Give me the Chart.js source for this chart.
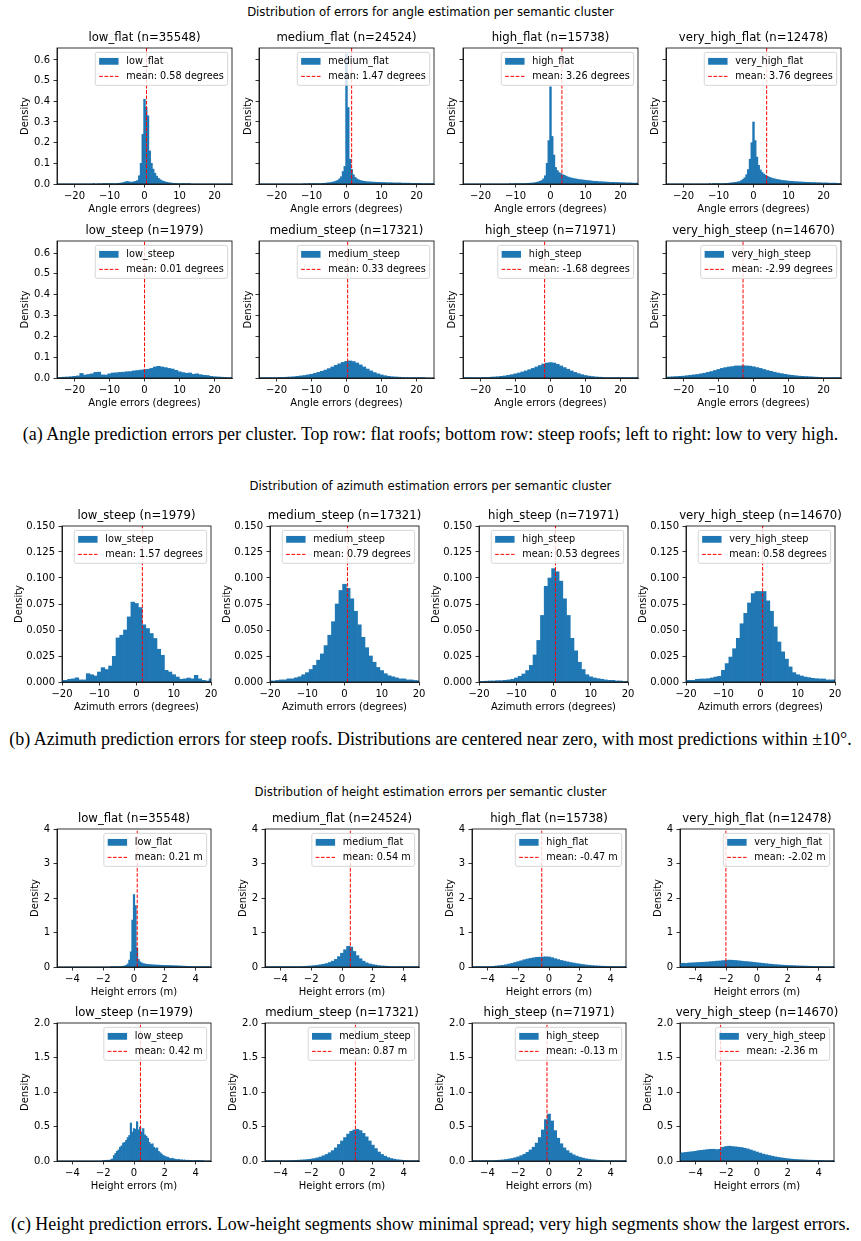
<!DOCTYPE html>
<html>
<head>
<meta charset="utf-8">
<title>Error distributions per semantic cluster</title>
<script src="https://cdn.jsdelivr.net/npm/chart.js@4.4.1/dist/chart.umd.min.js"></script>
<style>
  html, body { margin: 0; padding: 0; background: #fff; }
  #page { position: relative; width: 861px; height: 1241px; overflow: hidden; }
  #page canvas { position: absolute; }
  .suptitle { position: absolute; left: 0; width: 861px; text-align: center;
    font-family: "DejaVu Sans", sans-serif; font-size: 11.7px; line-height: 14px; color: #000; }
  .caption { position: absolute; left: 0; width: 861px; text-align: center; white-space: nowrap;
    font-family: "Liberation Serif", "Times New Roman", serif; font-size: 17.95px; line-height: 21px; color: #000; }
</style>
</head>
<body>
<div id="page">
  <div class="suptitle" style="top:5px">Distribution of errors for angle estimation per semantic cluster</div>
  <div class="caption" style="top:424px">(a) Angle prediction errors per cluster. Top row: flat roofs; bottom row: steep roofs; left to right: low to very high.</div>
  <div class="suptitle" style="top:479px">Distribution of azimuth estimation errors per semantic cluster</div>
  <div class="caption" style="top:729px">(b) Azimuth prediction errors for steep roofs. Distributions are centered near zero, with most predictions within ±10°.</div>
  <div class="suptitle" style="top:785px">Distribution of height estimation errors per semantic cluster</div>
  <div class="caption" style="top:1214px">(c) Height prediction errors. Low-height segments show minimal spread; very high segments show the largest errors.</div>
</div>
<script>
// ---------- data ----------

// cluster names, sample counts, means
const angleClusters = ['low_flat', 'medium_flat', 'high_flat', 'very_high_flat', 'low_steep', 'medium_steep', 'high_steep', 'very_high_steep'];
const angleCounts = [35548, 24524, 15738, 12478, 1979, 17321, 71971, 14670];
const angleMeans = [0.58, 1.47, 3.26, 3.76, 0.01, 0.33, -1.68, -2.99];

const azimuthClusters = ['low_steep', 'medium_steep', 'high_steep', 'very_high_steep'];
const azimuthCounts = [1979, 17321, 71971, 14670];
const azimuthMeans = [1.57, 0.79, 0.53, 0.58];

const heightClusters = ['low_flat', 'medium_flat', 'high_flat', 'very_high_flat', 'low_steep', 'medium_steep', 'high_steep', 'very_high_steep'];
const heightCounts = [35548, 24524, 15738, 12478, 1979, 17321, 71971, 14670];
const heightMeans = [0.21, 0.54, -0.47, -2.02, 0.42, 0.87, -0.13, -2.36];

// bin centres
const angleBinsFine = [
  -25, -24.5, -24, -23.5, -23, -22.5, -22, -21.5, -21, -20.5,
  -20, -19.5, -19, -18.5, -18, -17.5, -17, -16.5, -16, -15.5,
  -15, -14.5, -14, -13.5, -13, -12.5, -12, -11.5, -11, -10.5,
  -10, -9.5, -9, -8.5, -8, -7.5, -7, -6.5, -6, -5.5,
  -5, -4.5, -4, -3.5, -3, -2.5, -2, -1.5, -1, -0.5,
  0, 0.5, 1, 1.5, 2, 2.5, 3, 3.5, 4, 4.5,
  5, 5.5, 6, 6.5, 7, 7.5, 8, 8.5, 9, 9.5,
  10, 10.5, 11, 11.5, 12, 12.5, 13, 13.5, 14, 14.5,
  15, 15.5, 16, 16.5, 17, 17.5, 18, 18.5, 19, 19.5,
  20, 20.5, 21, 21.5, 22, 22.5, 23, 23.5, 24, 24.5,
  25
];
const angleBinsCoarse = [
  -25, -24, -23, -22, -21, -20, -19, -18, -17, -16,
  -15, -14, -13, -12, -11, -10, -9, -8, -7, -6,
  -5, -4, -3, -2, -1, 0, 1, 2, 3, 4,
  5, 6, 7, 8, 9, 10, 11, 12, 13, 14,
  15, 16, 17, 18, 19, 20, 21, 22, 23, 24,
  25
];
const azimuthBins = [
  -20, -19, -18, -17, -16, -15, -14, -13, -12, -11,
  -10, -9, -8, -7, -6, -5, -4, -3, -2, -1,
  0, 1, 2, 3, 4, 5, 6, 7, 8, 9,
  10, 11, 12, 13, 14, 15, 16, 17, 18, 19,
  20
];
const heightBinsFine = [
  -5, -4.9, -4.8, -4.7, -4.6, -4.5, -4.4, -4.3, -4.2, -4.1,
  -4, -3.9, -3.8, -3.7, -3.6, -3.5, -3.4, -3.3, -3.2, -3.1,
  -3, -2.9, -2.8, -2.7, -2.6, -2.5, -2.4, -2.3, -2.2, -2.1,
  -2, -1.9, -1.8, -1.7, -1.6, -1.5, -1.4, -1.3, -1.2, -1.1,
  -1, -0.9, -0.8, -0.7, -0.6, -0.5, -0.4, -0.3, -0.2, -0.1,
  0, 0.1, 0.2, 0.3, 0.4, 0.5, 0.6, 0.7, 0.8, 0.9,
  1, 1.1, 1.2, 1.3, 1.4, 1.5, 1.6, 1.7, 1.8, 1.9,
  2, 2.1, 2.2, 2.3, 2.4, 2.5, 2.6, 2.7, 2.8, 2.9,
  3, 3.1, 3.2, 3.3, 3.4, 3.5, 3.6, 3.7, 3.8, 3.9,
  4, 4.1, 4.2, 4.3, 4.4, 4.5, 4.6, 4.7, 4.8, 4.9,
  5
];
const heightBins = [
  -5, -4.8, -4.6, -4.4, -4.2, -4, -3.8, -3.6, -3.4, -3.2,
  -3, -2.8, -2.6, -2.4, -2.2, -2, -1.8, -1.6, -1.4, -1.2,
  -1, -0.8, -0.6, -0.4, -0.2, 0, 0.2, 0.4, 0.6, 0.8,
  1, 1.2, 1.4, 1.6, 1.8, 2, 2.2, 2.4, 2.6, 2.8,
  3, 3.2, 3.4, 3.6, 3.8, 4, 4.2, 4.4, 4.6, 4.8,
  5
];

// angle densities, flat roofs (0.5 degree bins)
const angleLowFlat = [
  0, 0, 0, 0, 0, 0, 0, 0, 0, 0,
  0, 0, 0, 0, 0, 0, 0, 0, 0, 0,
  0, 0.001, 0, 0, 0.001, 0, 0.001, 0.001, 0.001, 0.001,
  0.001, 0.002, 0.002, 0.002, 0.002, 0.003, 0.004, 0.005, 0.007, 0.01,
  0.012, 0.011, 0.009, 0.009, 0.011, 0.013, 0.017, 0.04, 0.1, 0.24,
  0.41, 0.37, 0.33, 0.16, 0.1, 0.072, 0.052, 0.038, 0.028, 0.021,
  0.016, 0.013, 0.01, 0.008, 0.006, 0.005, 0.004, 0.003, 0.003, 0.002,
  0.002, 0.002, 0.001, 0.001, 0.001, 0.001, 0.001, 0, 0, 0,
  0, 0, 0, 0, 0, 0, 0, 0, 0, 0,
  0, 0, 0, 0, 0, 0, 0, 0, 0, 0,
  0
];
const angleMediumFlat = [
  0, 0, 0, 0, 0, 0, 0, 0, 0, 0,
  0, 0, 0, 0, 0, 0, 0, 0, 0, 0,
  0, 0, 0, 0, 0, 0, 0.001, 0, 0.001, 0.001,
  0.001, 0.001, 0.001, 0.001, 0.002, 0.002, 0.003, 0.003, 0.004, 0.005,
  0.006, 0.007, 0.009, 0.011, 0.014, 0.018, 0.025, 0.035, 0.06, 0.085,
  0.63, 0.37, 0.12, 0.07, 0.045, 0.032, 0.025, 0.02, 0.017, 0.015,
  0.013, 0.012, 0.011, 0.01, 0.01, 0.009, 0.009, 0.008, 0.008, 0.008,
  0.007, 0.007, 0.007, 0.006, 0.006, 0.006, 0.006, 0.005, 0.005, 0.005,
  0.005, 0.005, 0.004, 0.004, 0.004, 0.004, 0.004, 0.003, 0.003, 0.003,
  0.003, 0.003, 0.003, 0.002, 0.002, 0.002, 0.002, 0.002, 0.002, 0.002,
  0.001
];
const angleHighFlat = [
  0, 0, 0, 0, 0, 0, 0, 0, 0, 0,
  0, 0, 0, 0, 0, 0, 0, 0, 0, 0,
  0, 0, 0, 0, 0, 0, 0, 0.001, 0, 0.001,
  0.001, 0.001, 0.001, 0.001, 0.002, 0.002, 0.003, 0.003, 0.004, 0.004,
  0.005, 0.006, 0.008, 0.01, 0.013, 0.017, 0.025, 0.04, 0.1, 0.21,
  0.47, 0.23, 0.14, 0.08, 0.065, 0.055, 0.05, 0.045, 0.042, 0.038,
  0.034, 0.031, 0.029, 0.027, 0.025, 0.024, 0.022, 0.021, 0.02, 0.019,
  0.018, 0.017, 0.016, 0.015, 0.014, 0.013, 0.013, 0.012, 0.011, 0.011,
  0.01, 0.01, 0.009, 0.009, 0.008, 0.008, 0.008, 0.007, 0.007, 0.007,
  0.006, 0.006, 0.006, 0.005, 0.005, 0.005, 0.005, 0.004, 0.004, 0.004,
  0.004
];
const angleVeryHighFlat = [
  0, 0, 0, 0, 0, 0, 0, 0, 0, 0,
  0, 0, 0, 0, 0, 0, 0, 0, 0, 0,
  0, 0, 0, 0, 0, 0.001, 0, 0.001, 0.001, 0.001,
  0.001, 0.002, 0.002, 0.002, 0.003, 0.003, 0.004, 0.005, 0.006, 0.007,
  0.008, 0.01, 0.012, 0.016, 0.022, 0.03, 0.045, 0.07, 0.12, 0.2,
  0.3, 0.21, 0.13, 0.09, 0.068, 0.056, 0.048, 0.042, 0.037, 0.033,
  0.03, 0.027, 0.025, 0.023, 0.021, 0.02, 0.018, 0.017, 0.016, 0.015,
  0.014, 0.013, 0.013, 0.012, 0.011, 0.011, 0.01, 0.01, 0.009, 0.009,
  0.008, 0.008, 0.008, 0.007, 0.007, 0.007, 0.006, 0.006, 0.006, 0.005,
  0.005, 0.005, 0.005, 0.004, 0.004, 0.004, 0.004, 0.004, 0.003, 0.003,
  0.003
];
// angle densities, steep roofs (1 degree bins)
const angleLowSteep = [
  0.002, 0.003, 0.004, 0.005, 0.006, 0.008, 0.01, 0.022, 0.014, 0.017,
  0.02, 0.027, 0.028, 0.015, 0.014, 0.02, 0.024, 0.025, 0.027, 0.028,
  0.03, 0.031, 0.034, 0.036, 0.038, 0.04, 0.042, 0.046, 0.053, 0.056,
  0.053, 0.05, 0.046, 0.043, 0.037, 0.03, 0.026, 0.023, 0.024, 0.018,
  0.02, 0.016, 0.013, 0.012, 0.008, 0.006, 0.005, 0.004, 0.003, 0.002,
  0.001
];
const angleMediumSteep = [
  0.001, 0.001, 0.001, 0.002, 0.002, 0.002, 0.003, 0.003, 0.004, 0.005,
  0.006, 0.008, 0.01, 0.012, 0.015, 0.018, 0.022, 0.027, 0.032, 0.038,
  0.045, 0.053, 0.061, 0.068, 0.075, 0.08, 0.082, 0.079, 0.072, 0.063,
  0.053, 0.043, 0.034, 0.026, 0.02, 0.015, 0.011, 0.008, 0.006, 0.005,
  0.004, 0.003, 0.002, 0.002, 0.001, 0.001, 0.001, 0.001, 0, 0,
  0
];
const angleHighSteep = [
  0.0005, 0.001, 0.001, 0.001, 0.002, 0.002, 0.003, 0.003, 0.004, 0.005,
  0.006, 0.008, 0.01, 0.013, 0.016, 0.02, 0.024, 0.029, 0.034, 0.04,
  0.046, 0.053, 0.06, 0.067, 0.072, 0.074, 0.072, 0.066, 0.058, 0.05,
  0.042, 0.034, 0.027, 0.021, 0.016, 0.012, 0.009, 0.007, 0.005, 0.004,
  0.003, 0.002, 0.002, 0.001, 0.001, 0.001, 0.001, 0.0005, 0.0005, 0.0005,
  0.0005
];
const angleVeryHighSteep = [
  0.004, 0.005, 0.006, 0.007, 0.008, 0.009, 0.011, 0.013, 0.015, 0.017,
  0.02, 0.023, 0.027, 0.031, 0.036, 0.041, 0.046, 0.05, 0.053, 0.055,
  0.058, 0.058, 0.059, 0.058, 0.057, 0.054, 0.05, 0.046, 0.041, 0.036,
  0.032, 0.028, 0.024, 0.021, 0.018, 0.015, 0.013, 0.011, 0.009, 0.008,
  0.007, 0.006, 0.005, 0.004, 0.003, 0.002, 0.002, 0.001, 0.001, 0.001,
  0.0005
];

// azimuth densities (1 degree bins)
const azimuthLowSteep = [
  0.0016, 0.0016, 0.0026, 0.003, 0.004, 0.002, 0.002, 0.008, 0.007, 0.0058,
  0.0096, 0.0138, 0.012, 0.0154, 0.0247, 0.0424, 0.045, 0.05, 0.0626, 0.0768,
  0.0755, 0.0716, 0.055, 0.0514, 0.0466, 0.0418, 0.0315, 0.0257, 0.0112, 0.0096,
  0.007, 0.0048, 0.0026, 0.003, 0.0038, 0.003, 0.0064, 0.003, 0.0016, 0.001,
  0.003
];
const azimuthMediumSteep = [
  0.001, 0.001, 0.0015, 0.002, 0.002, 0.003, 0.003, 0.004, 0.005, 0.007,
  0.009, 0.012, 0.016, 0.021, 0.027, 0.035, 0.045, 0.058, 0.075, 0.088,
  0.094, 0.09, 0.08, 0.068, 0.055, 0.043, 0.033, 0.025, 0.019, 0.014,
  0.011, 0.008, 0.006, 0.005, 0.004, 0.003, 0.003, 0.002, 0.002, 0.0015,
  0.001
];
const azimuthHighSteep = [
  0.0006, 0.0006, 0.0008, 0.001, 0.001, 0.0013, 0.0013, 0.0016, 0.002, 0.0026,
  0.0039, 0.0055, 0.0077, 0.011, 0.016, 0.026, 0.04, 0.064, 0.092, 0.1,
  0.109, 0.106, 0.097, 0.08, 0.064, 0.042, 0.03, 0.019, 0.012, 0.007,
  0.005, 0.0039, 0.0032, 0.0026, 0.002, 0.0016, 0.0016, 0.001, 0.001, 0.0006,
  0.0006
];
const azimuthVeryHighSteep = [
  0.0016, 0.0016, 0.0016, 0.0026, 0.0029, 0.0029, 0.0032, 0.0039, 0.0048, 0.0055,
  0.0112, 0.0177, 0.024, 0.032, 0.042, 0.056, 0.066, 0.076, 0.085, 0.087,
  0.087, 0.087, 0.078, 0.068, 0.053, 0.0385, 0.029, 0.022, 0.0145, 0.009,
  0.007, 0.0058, 0.0048, 0.0042, 0.0035, 0.0032, 0.0029, 0.0029, 0.002, 0.002,
  0.002
];

// height densities (0.1 m bins for the low clusters, 0.2 m for the rest)
const heightLowFlat = [
  0, 0, 0, 0, 0, 0, 0, 0, 0, 0,
  0, 0, 0, 0, 0, 0, 0, 0, 0, 0,
  0, 0, 0, 0, 0, 0, 0, 0, 0, 0,
  0, 0, 0, 0, 0, 0.002, 0.003, 0.004, 0.005, 0.007,
  0.009, 0.012, 0.016, 0.022, 0.032, 0.05, 0.09, 0.2, 0.44, 1.36,
  2.1, 1.78, 0.55, 0.22, 0.15, 0.12, 0.1, 0.09, 0.08, 0.075,
  0.07, 0.067, 0.064, 0.061, 0.058, 0.056, 0.054, 0.052, 0.05, 0.049,
  0.047, 0.046, 0.044, 0.043, 0.041, 0.039, 0.037, 0.035, 0.033, 0.031,
  0.029, 0.027, 0.025, 0.023, 0.021, 0.019, 0.017, 0.015, 0.014, 0.013,
  0.012, 0.011, 0.01, 0.009, 0.008, 0.008, 0.007, 0.006, 0.006, 0.005,
  0.005
];
const heightMediumFlat = [
  0.005, 0.005, 0.005, 0.005, 0.005, 0.005, 0.005, 0.005, 0.005, 0.005,
  0.01, 0.012, 0.015, 0.02, 0.025, 0.03, 0.04, 0.05, 0.065, 0.08,
  0.1, 0.13, 0.17, 0.22, 0.3, 0.4, 0.5, 0.6, 0.58, 0.45,
  0.33, 0.24, 0.17, 0.12, 0.09, 0.07, 0.055, 0.04, 0.03, 0.025,
  0.02, 0.015, 0.012, 0.01, 0.008, 0.006, 0.005, 0.005, 0.004, 0.004,
  0.003
];
const heightHighFlat = [
  0.005, 0.006, 0.007, 0.008, 0.01, 0.012, 0.015, 0.02, 0.03, 0.04,
  0.05, 0.065, 0.085, 0.105, 0.13, 0.155, 0.18, 0.21, 0.23, 0.25,
  0.265, 0.28, 0.285, 0.29, 0.295, 0.29, 0.27, 0.24, 0.215, 0.19,
  0.17, 0.15, 0.13, 0.115, 0.1, 0.085, 0.072, 0.06, 0.05, 0.042,
  0.035, 0.03, 0.025, 0.021, 0.018, 0.015, 0.013, 0.011, 0.01, 0.008,
  0.007
];
const heightVeryHighFlat = [
  0.1, 0.11, 0.105, 0.115, 0.12, 0.125, 0.13, 0.135, 0.14, 0.145,
  0.155, 0.16, 0.17, 0.175, 0.185, 0.19, 0.2, 0.195, 0.19, 0.18,
  0.17, 0.16, 0.155, 0.145, 0.135, 0.125, 0.115, 0.105, 0.095, 0.085,
  0.078, 0.07, 0.062, 0.056, 0.05, 0.046, 0.042, 0.038, 0.034, 0.03,
  0.028, 0.025, 0.022, 0.02, 0.018, 0.016, 0.014, 0.012, 0.011, 0.01,
  0.009
];
const heightLowSteep = [
  0, 0, 0, 0, 0, 0, 0, 0, 0, 0,
  0, 0, 0, 0, 0, 0, 0, 0, 0, 0,
  0, 0, 0, 0, 0, 0, 0, 0, 0, 0,
  0.005, 0.008, 0.01, 0.012, 0.01, 0.02, 0.03, 0.08, 0.11, 0.14,
  0.16, 0.2, 0.22, 0.26, 0.27, 0.3, 0.34, 0.37, 0.55, 0.42,
  0.47, 0.46, 0.57, 0.45, 0.49, 0.42, 0.47, 0.38, 0.36, 0.33,
  0.27, 0.24, 0.25, 0.2, 0.18, 0.19, 0.14, 0.12, 0.1, 0.08,
  0.07, 0.06, 0.055, 0.04, 0.035, 0.04, 0.03, 0.025, 0.02, 0.025,
  0.015, 0.018, 0.012, 0.015, 0.01, 0.012, 0.008, 0.01, 0.008, 0.006,
  0.01, 0.008, 0.01, 0.004, 0.002, 0.002, 0, 0, 0, 0,
  0
];
const heightMediumSteep = [
  0.002, 0.002, 0.003, 0.003, 0.004, 0.004, 0.005, 0.006, 0.007, 0.008,
  0.01, 0.012, 0.015, 0.018, 0.022, 0.028, 0.035, 0.045, 0.058, 0.075,
  0.095, 0.12, 0.15, 0.19, 0.24, 0.29, 0.34, 0.39, 0.43, 0.45,
  0.46, 0.44, 0.4, 0.35, 0.29, 0.23, 0.18, 0.13, 0.095, 0.07,
  0.05, 0.036, 0.026, 0.019, 0.014, 0.01, 0.008, 0.006, 0.005, 0.004,
  0.003
];
const heightHighSteep = [
  0.001, 0.001, 0.002, 0.002, 0.003, 0.004, 0.005, 0.007, 0.009, 0.012,
  0.016, 0.021, 0.028, 0.036, 0.047, 0.06, 0.077, 0.098, 0.125, 0.16,
  0.2, 0.26, 0.34, 0.45, 0.6, 0.68, 0.58, 0.44, 0.33, 0.25,
  0.19, 0.15, 0.115, 0.09, 0.07, 0.055, 0.043, 0.033, 0.025, 0.019,
  0.015, 0.011, 0.009, 0.007, 0.005, 0.004, 0.003, 0.002, 0.002, 0.001,
  0.001
];
const heightVeryHighSteep = [
  0.11, 0.12, 0.125, 0.13, 0.135, 0.14, 0.15, 0.155, 0.16, 0.165,
  0.17, 0.17, 0.165, 0.17, 0.2, 0.21, 0.215, 0.21, 0.205, 0.2,
  0.195, 0.185, 0.175, 0.16, 0.145, 0.13, 0.115, 0.1, 0.09, 0.08,
  0.07, 0.06, 0.052, 0.045, 0.038, 0.033, 0.028, 0.024, 0.021, 0.018,
  0.016, 0.014, 0.012, 0.011, 0.01, 0.009, 0.008, 0.007, 0.006, 0.005,
  0.005
];

// ticks
const angleXTicks = [-20, -10, 0, 10, 20];
const angleXLabels = ['−20', '−10', '0', '10', '20'];
const angleYTicks = [0, 0.1, 0.2, 0.3, 0.4, 0.5, 0.6];
const angleYLabels = ['0.0', '0.1', '0.2', '0.3', '0.4', '0.5', '0.6'];
const azimuthXTicks = [-20, -10, 0, 10, 20];
const azimuthXLabels = ['−20', '−10', '0', '10', '20'];
const azimuthYTicks = [0, 0.025, 0.05, 0.075, 0.1, 0.125, 0.15];
const azimuthYLabels = ['0.000', '0.025', '0.050', '0.075', '0.100', '0.125', '0.150'];
const heightXTicks = [-4, -2, 0, 2, 4];
const heightXLabels = ['−4', '−2', '0', '2', '4'];
const heightFlatYTicks = [0, 1, 2, 3, 4];
const heightFlatYLabels = ['0', '1', '2', '3', '4'];
const heightSteepYTicks = [0, 0.5, 1, 1.5, 2];
const heightSteepYLabels = ['0.0', '0.5', '1.0', '1.5', '2.0'];

// ---------- drawing ----------
const FONT = '"DejaVu Sans", sans-serif';
const BLUE = '#1f77b4';
const TITLE_SPACE = 22;
const XAXIS_H = 31;
const PAD_RIGHT = 14;

Chart.defaults.font.family = FONT;
Chart.defaults.color = '#000';

// frame, panel title and matplotlib-like legend inside the axes
const panelDecor = {
  id: 'panelDecor',
  afterDraw(chart, args, opts) {
    const { ctx, chartArea: a } = chart;
    const ds = chart.data.datasets;
    ctx.save();
    ctx.strokeStyle = '#000';
    ctx.lineWidth = 0.8;
    ctx.strokeRect(a.left, a.top, a.right - a.left, a.bottom - a.top);

    ctx.fillStyle = '#000';
    ctx.font = '11.7px ' + FONT;
    ctx.textAlign = 'center';
    ctx.textBaseline = 'middle';
    ctx.fillText(opts.title, (a.left + a.right) / 2, a.top - 10);

    const fs = 9.7;
    ctx.font = fs + 'px ' + FONT;
    const labels = [ds[0].label, ds[1].label];
    const textW = Math.max(...labels.map(t => ctx.measureText(t).width));
    const pad = 0.4 * fs, hl = 2 * fs, hp = 0.8 * fs, gap = 0.5 * fs, rowH = 1.05 * fs;
    const bw = pad + hl + hp + textW + pad;
    const bh = 2 * pad + 2 * rowH + gap;
    const bx = a.right - 0.45 * fs - bw;
    const by = a.top + 0.45 * fs;
    ctx.beginPath();
    ctx.roundRect(bx, by, bw, bh, 2);
    ctx.fillStyle = 'rgba(255,255,255,0.8)';
    ctx.fill();
    ctx.strokeStyle = '#cccccc';
    ctx.lineWidth = 0.8;
    ctx.stroke();

    const cy0 = by + pad + rowH / 2;
    const cy1 = cy0 + rowH + gap;
    ctx.fillStyle = BLUE;
    ctx.fillRect(bx + pad, cy0 - 0.35 * fs, hl, 0.7 * fs);
    ctx.strokeStyle = '#ff0000';
    ctx.lineWidth = 1;
    ctx.setLineDash([3.7, 1.6]);
    ctx.beginPath();
    ctx.moveTo(bx + pad, cy1);
    ctx.lineTo(bx + pad + hl, cy1);
    ctx.stroke();
    ctx.setLineDash([]);

    ctx.fillStyle = '#000';
    ctx.textAlign = 'left';
    ctx.fillText(labels[0], bx + pad + hl + hp, cy0);
    ctx.fillText(labels[1], bx + pad + hl + hp, cy1);
    ctx.restore();
  }
};

function axisStyle() {
  return {
    grid: { display: true, drawOnChartArea: false, drawTicks: true, tickLength: 3.5, color: '#000', lineWidth: 0.8, offset: false },
    border: { display: true, color: '#000', width: 0.8 }
  };
}

function addPanel(p) {
  const page = document.getElementById('page');
  const canvas = document.createElement('canvas');
  canvas.width = p.axisW + p.w + PAD_RIGHT;
  canvas.height = TITLE_SPACE + p.h + XAXIS_H;
  canvas.style.left = (p.left - p.axisW) + 'px';
  canvas.style.top = (p.top - TITLE_SPACE) + 'px';
  page.appendChild(canvas);

  new Chart(canvas, {
    type: 'bar',
    data: {
      datasets: [
        {
          type: 'bar',
          label: p.name,
          data: p.bins.map((x, i) => ({ x: x, y: p.values[i] })),
          backgroundColor: BLUE,
          borderWidth: 0,
          barPercentage: 1,
          categoryPercentage: 1,
          clip: 0,
          order: 2
        },
        {
          type: 'line',
          label: 'mean: ' + p.mean.toFixed(2) + ' ' + p.unit,
          data: [{ x: p.mean, y: 0 }, { x: p.mean, y: p.yMax }],
          borderColor: '#ff0000',
          borderWidth: 1,
          borderDash: [3.7, 1.6],
          pointRadius: 0,
          fill: false,
          clip: 0,
          order: 1
        }
      ]
    },
    options: {
      responsive: false,
      animation: false,
      devicePixelRatio: 1,
      layout: { padding: { top: TITLE_SPACE, right: PAD_RIGHT, bottom: 0, left: 0 } },
      plugins: {
        legend: { display: false },
        tooltip: { enabled: false },
        panelDecor: { title: p.name + ' (n=' + p.count + ')' }
      },
      scales: {
        x: Object.assign(axisStyle(), {
          type: 'linear',
          offset: false,
          min: p.xMin,
          max: p.xMax,
          afterBuildTicks: s => { s.ticks = p.xTicks.map(v => ({ value: v })); },
          afterFit: s => { s.height = XAXIS_H; },
          ticks: {
            autoSkip: false, maxRotation: 0, minRotation: 0, padding: 2.5,
            font: { size: 10 },
            callback: (v, i) => p.xLabels[i]
          },
          title: { display: true, text: p.xTitle, font: { size: 10 }, padding: 0 }
        }),
        y: Object.assign(axisStyle(), {
          type: 'linear',
          min: 0,
          max: p.yMax,
          afterBuildTicks: s => { s.ticks = p.yTicks.map(v => ({ value: v })); },
          afterFit: s => { s.width = p.axisW; },
          ticks: {
            autoSkip: false, padding: 3.5,
            font: { size: 10 },
            callback: (v, i) => p.yLabels[i]
          },
          title: { display: true, text: 'Density', font: { size: 10 }, padding: 0 }
        })
      }
    },
    plugins: [panelDecor]
  });
}

// (a) angle
const angleSeries = [angleLowFlat, angleMediumFlat, angleHighFlat, angleVeryHighFlat,
  angleLowSteep, angleMediumSteep, angleHighSteep, angleVeryHighSteep];
const angleLefts = [57, 259, 463, 666];
const angleTops = [48, 241];
const angleHeights = [136, 137];
angleClusters.forEach((name, i) => {
  const row = Math.floor(i / 4), col = i % 4;
  addPanel({
    left: angleLefts[col], top: angleTops[row], w: 175, h: angleHeights[row],
    axisW: col === 0 ? 38 : 17,
    name: name, count: angleCounts[i], mean: angleMeans[i], unit: 'degrees',
    bins: row === 0 ? angleBinsFine : angleBinsCoarse, values: angleSeries[i],
    xMin: -25, xMax: 25, xTicks: angleXTicks, xLabels: angleXLabels,
    yMax: 0.658, yTicks: angleYTicks,
    yLabels: col === 0 ? angleYLabels : angleYTicks.map(() => ''),
    xTitle: 'Angle errors (degrees)'
  });
});

// (b) azimuth
const azimuthSeries = [azimuthLowSteep, azimuthMediumSteep, azimuthHighSteep, azimuthVeryHighSteep];
const azimuthLefts = [62, 270, 479, 686];
azimuthClusters.forEach((name, i) => {
  addPanel({
    left: azimuthLefts[i], top: 526, w: 149, h: 156, axisW: 49,
    name: name, count: azimuthCounts[i], mean: azimuthMeans[i], unit: 'degrees',
    bins: azimuthBins, values: azimuthSeries[i],
    xMin: -20, xMax: 20, xTicks: azimuthXTicks, xLabels: azimuthXLabels,
    yMax: 0.15, yTicks: azimuthYTicks, yLabels: azimuthYLabels,
    xTitle: 'Azimuth errors (degrees)'
  });
});

// (c) height
const heightSeries = [heightLowFlat, heightMediumFlat, heightHighFlat, heightVeryHighFlat,
  heightLowSteep, heightMediumSteep, heightHighSteep, heightVeryHighSteep];
const heightLefts = [57, 265, 472, 680];
const heightTops = [829, 1023];
heightClusters.forEach((name, i) => {
  const row = Math.floor(i / 4), col = i % 4;
  addPanel({
    left: heightLefts[col], top: heightTops[row], w: 154, h: 138,
    axisW: row === 0 ? 28 : 38,
    name: name, count: heightCounts[i], mean: heightMeans[i], unit: 'm',
    bins: (col === 0) ? heightBinsFine : heightBins, values: heightSeries[i],
    xMin: -5, xMax: 5, xTicks: heightXTicks, xLabels: heightXLabels,
    yMax: row === 0 ? 4 : 2,
    yTicks: row === 0 ? heightFlatYTicks : heightSteepYTicks,
    yLabels: row === 0 ? heightFlatYLabels : heightSteepYLabels,
    xTitle: 'Height errors (m)'
  });
});
</script>
</body>
</html>
